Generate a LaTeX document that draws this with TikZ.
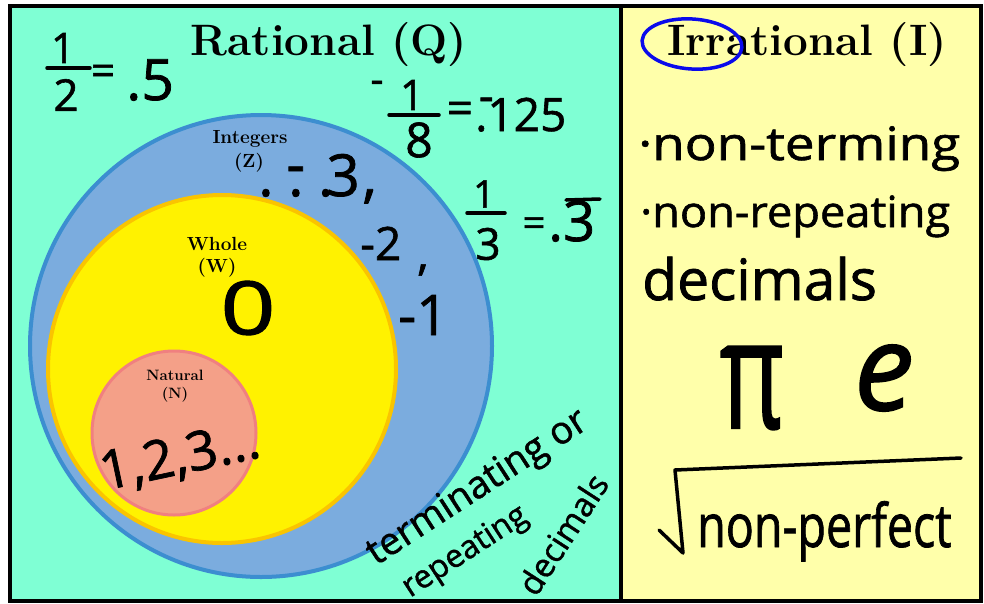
\documentclass[tikz,border=0pt]{standalone}
\usepackage{fontspec}
\usepackage{graphicx}
\newfontfamily\hwfont{Open Sans}[FakeBold=1.3]
\newcommand{\hwf}[1]{\hwfont\fontsize{#1}{#1}\selectfont}
\newcommand{\ttlf}[1]{\rmfamily\bfseries\fontsize{#1}{#1}\selectfont}
\definecolor{aqua}{RGB}{127,255,212}
\definecolor{paleyel}{RGB}{255,255,170}
\definecolor{intfill}{RGB}{123,172,222}
\definecolor{intline}{RGB}{60,142,208}
\definecolor{wholeline}{RGB}{250,196,0}
\definecolor{natfill}{RGB}{244,160,136}
\definecolor{natline}{RGB}{240,128,128}
\definecolor{markblue}{RGB}{10,10,235}
\tikzset{
  hw/.style={inner sep=0pt, text=black},
  ink/.style={draw=black, line width=3.5pt, line cap=round, line join=round},
  frame/.style={draw=black, line width=3.5pt},
  ttl/.style={inner sep=0pt, anchor=base, font=\ttlf{44}},
  setlbl/.style={inner sep=0pt, anchor=base, font=\ttlf{#1}},
}
\begin{document}
\begin{tikzpicture}[x=1pt,y=-1pt]
\useasboundingbox (0,0) rectangle (984,603);
\fill[white] (0,0) rectangle (984,603);
\fill[aqua] (10,6) rectangle (621,601);
\fill[paleyel] (621,6) rectangle (981,601);

% nested sets
\draw[fill=intfill, draw=intline, line width=4pt] (261,346) circle [radius=231pt];
\draw[fill=yellow, draw=wholeline, line width=4pt] (222,369) circle [radius=174pt];
\draw[fill=natfill, draw=natline, line width=3pt] (174,433) circle [radius=82pt];

% frame
\draw[frame] (10,6) rectangle (981,601);
\draw[frame] (621,6) -- (621,601);

% titles
\node[ttl] (ratQ) at (329,55) {Rational (Q)};
\node[ttl] (irrI) at (807,55) {Irrational (I)};
\draw[markblue, line width=3.5pt, rotate around={-4:(692,44)}] (692,44) ellipse [x radius=50pt, y radius=25pt];

% set labels
\node[setlbl=19] (intA) at (250,143) {Integers};
\node[setlbl=19] (intB) at (249,167) {(Z)};
\node[setlbl=19] (whA) at (217,250) {Whole};
\node[setlbl=19] (whB) at (217,272) {(W)};
\node[setlbl=15] (naA) at (175,380) {Natural};
\node[setlbl=15] (naB) at (175,398) {(N)};

% 1/2 = .5
\node[hw, font=\hwf{42}] (h1) at (63,48) {1};
\node[hw, font=\hwf{44}] (h2) at (66,95) {2};
\coordinate (hbA) at (47,68); \coordinate (hbB) at (90,68);
\draw[ink] (hbA) -- (hbB);
\node[hw, font=\hwf{42}] (heq) at (103,75) {=};
\node[hw, font=\hwf{57}, anchor=base west] (hdec) at (126,100) {.5};

% -1/8 = -.125
\node[hw, font=\hwf{40}] (em) at (377,87) {-};
\node[hw, font=\hwf{42}] (e1) at (412,95) {1};
\coordinate (ebA) at (389,115); \coordinate (ebB) at (439,115);
\draw[ink] (ebA) -- (ebB);
\node[hw, font=\hwf{48}] (e8) at (419,140) {8};
\node[hw, font=\hwf{46}] (eeq) at (460,113) {=};
\node[hw, font=\hwf{46}, anchor=base west] (edec) at (475,131) {\rlap{\kern0.08em\raisebox{0.42em}{-}}.125};

% 1/3 = .3 repeating
\node[hw, font=\hwf{38}] (t1) at (484,194) {1};
\coordinate (tbA) at (467,213); \coordinate (tbB) at (505,213);
\draw[ink] (tbA) -- (tbB);
\node[hw, font=\hwf{44}] (t3) at (488,244) {3};
\node[hw, font=\hwf{40}] (teq) at (534,227) {=};
\node[hw, font=\hwf{56}, anchor=base west] (tdec) at (548,241) {.3};
\coordinate (toA) at (566,200); \coordinate (toB) at (600,199);
\draw[ink] (toA) -- (toB);

% integers
\node[hw, font=\hwf{58}, anchor=base west] (z3) at (258,196)
  {.\kern0.25em\rlap{\kern-0.03em\raisebox{0.2em}{-}}.\kern0.25em.\kern-0.12em3\kern0.05em,};
\node[hw, font=\hwf{46}, anchor=base west] (w2) at (360,260) {-2};
\node[hw, font=\hwf{46}] (wc) at (423,270) {,};
\node[hw, font=\hwf{56}, anchor=base west] (w1) at (398,335) {-1};

% whole
\node[hw, font=\hwf{74}] (zero) at (248,308) {\scalebox{1.3}[1]{0}};

% natural
\node[hw, font=\hwf{54}, rotate=12] (nat) at (180,458) {1,2,3...};

% terminating or repeating decimals
\node[hw, font=\hwf{38}, rotate=33, anchor=base west] (trm) at (376,566) {terminating or};
\node[hw, font=\hwf{32}, rotate=33, anchor=base west] (rep) at (410,598) {repeating};
\node[hw, font=\hwf{33}, rotate=57, anchor=base west] (dcm) at (536,598) {decimals};

% irrational
\node[hw, font=\hwf{46}, anchor=base west] (r1) at (638,160) {\scalebox{1.15}[1]{·non-terming}};
\node[hw, font=\hwf{43}, anchor=base west] (r2) at (640,227) {\scalebox{1.05}[1]{·non-repeating}};
\node[hw, font=\hwf{57}, anchor=base west] (r3) at (642,300) {decimals};
\node[hw, font=\hwf{90}] (pi) at (752,388) {\scalebox{1.1}[1.7]{π}};
\node[hw, font=\hwf{120}] (ee) at (884,378) {\itshape e};
\node[hw, font=\hwf{48}, anchor=base west] (np) at (697,547) {\scalebox{0.97}[1.25]{non-perfect}};
\coordinate (rdA) at (659,530);
\coordinate (rdB) at (683,553);
\coordinate (rdC) at (675,470);
\coordinate (rdD) at (961,458);
\draw[ink] (rdA) -- (rdB) -- (rdC) -- (rdD);
\end{tikzpicture}
\end{document}
